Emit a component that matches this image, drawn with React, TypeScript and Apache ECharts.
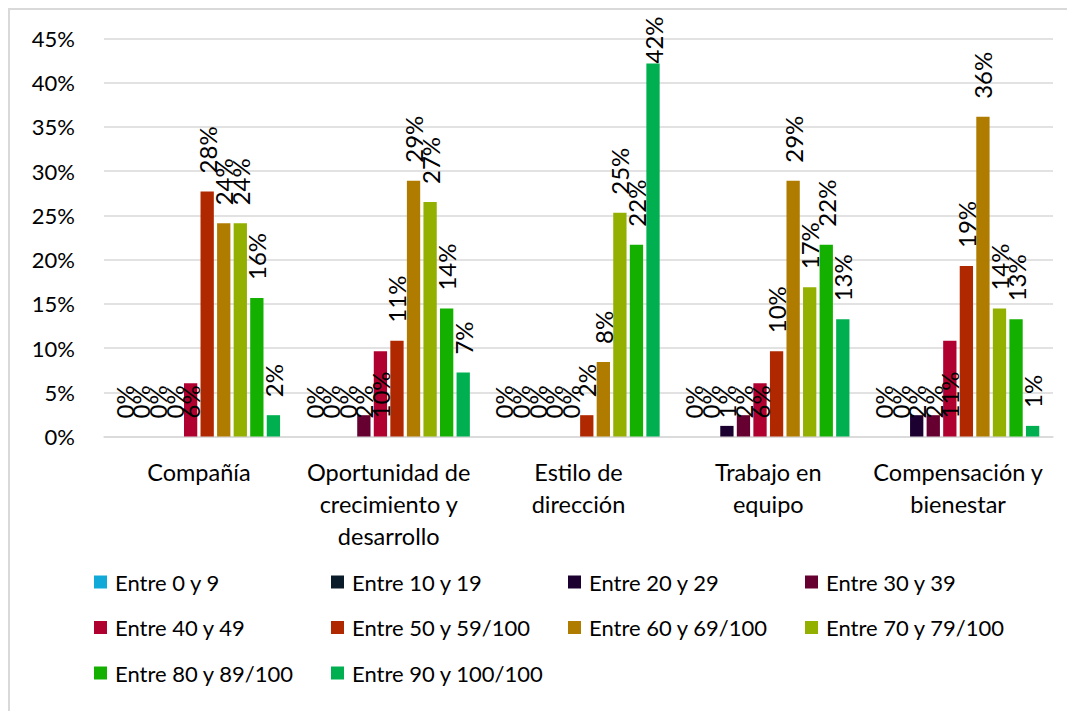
import React, { useEffect, useRef } from "react";
import * as echarts from "echarts";

// Categories (line breaks follow the axis label layout)
const categories = [
  "Compañía",
  "Oportunidad de\ncrecimiento y\ndesarrollo",
  "Estilo de\ndirección",
  "Trabajo en\nequipo",
  "Compensación y\nbienestar",
];

const seriesNames = [
  "Entre 0 y 9",
  "Entre 10 y 19",
  "Entre 20 y 29",
  "Entre 30 y 39",
  "Entre 40 y 49",
  "Entre 50 y 59/100",
  "Entre 60 y 69/100",
  "Entre 70 y 79/100",
  "Entre 80 y 89/100",
  "Entre 90 y 100/100",
];

const seriesColors = [
  "#11AAD8",
  "#0A1B2A",
  "#1C0030",
  "#650030",
  "#B00030",
  "#B02800",
  "#B07C00",
  "#93B000",
  "#14B000",
  "#00AF50",
];

// Percentage of answers per score range, one value per category
const range0to9 = [0, 0, 0, 0, 0];
const range10to19 = [0, 0, 0, 0, 0];
const range20to29 = [0, 0, 0, 1.2, 2.41];
const range30to39 = [0, 2.41, 0, 2.41, 2.41];
const range40to49 = [6.02, 9.64, 0, 6.02, 10.84];
const range50to59 = [27.71, 10.84, 2.41, 9.64, 19.28];
const range60to69 = [24.1, 28.92, 8.43, 28.92, 36.14];
const range70to79 = [24.1, 26.51, 25.3, 16.87, 14.46];
const range80to89 = [15.66, 14.46, 21.69, 21.69, 13.25];
const range90to100 = [2.41, 7.23, 42.17, 13.25, 1.2];

const seriesValues = [
  range0to9,
  range10to19,
  range20to29,
  range30to39,
  range40to49,
  range50to59,
  range60to69,
  range70to79,
  range80to89,
  range90to100,
];

const yTicks = [0, 5, 10, 15, 20, 25, 30, 35, 40, 45];

// Legend layout: four columns of items
const legendColumns = [
  ["Entre 0 y 9", "Entre 40 y 49", "Entre 80 y 89/100"],
  ["Entre 10 y 19", "Entre 50 y 59/100", "Entre 90 y 100/100"],
  ["Entre 20 y 29", "Entre 60 y 69/100"],
  ["Entre 30 y 39", "Entre 70 y 79/100"],
];

const FONT = "Lato, 'Noto Sans', sans-serif";
const CHART_W = 1065;
const CHART_H = 701;
const GRID = { left: 94, right: 22, top: 28.5, bottom: 274.5 };
const Y_MAX = yTicks[yTicks.length - 1];
const LABEL_SIZE = 24;
const LABEL_GAP = 18;

// Keep tall labels inside the chart: shrink the gap above the bar if needed
function labelDistance(v: number): number {
  const plotH = CHART_H - GRID.top - GRID.bottom;
  const space = GRID.top + ((Y_MAX - v) / Y_MAX) * plotH;
  const labelLen = LABEL_SIZE * 2;
  return Math.max(0, Math.min(LABEL_GAP, space - labelLen - 7));
}

export default function App() {
  const ref = useRef<HTMLDivElement>(null);

  useEffect(() => {
    if (!ref.current) return;
    const chart = echarts.init(ref.current, undefined, { renderer: "svg" });

    const series = seriesNames.map((name, i) => {
      const lowRange = i < 5;
      return {
        name,
        type: "bar",
        barWidth: 13.3,
        barGap: "24.5%",
        itemStyle: { color: seriesColors[i] },
        label: {
          show: true,
          position: lowRange ? "insideBottom" : "top",
          distance: LABEL_GAP,
          rotate: 90,
          align: "left",
          verticalAlign: "middle",
          color: "#000",
          fontFamily: FONT,
          fontSize: LABEL_SIZE,
          formatter: (p: any) => `${Math.round(p.value)}%`,
        },
        data: seriesValues[i].map((v) =>
          lowRange ? v : { value: v, label: { distance: labelDistance(v) } }
        ),
      };
    });

    const legendLefts = [84, 321, 558, 795];
    const legends = legendColumns.map((names, c) => ({
      orient: "vertical",
      left: legendLefts[c],
      top: 561,
      padding: 0,
      itemWidth: 13,
      itemHeight: 13,
      itemGap: 23.5,
      icon: "rect",
      data: names,
      selectedMode: false,
      textStyle: {
        fontFamily: FONT,
        fontSize: 22,
        lineHeight: 22,
        color: "#000",
        padding: [0, 0, 0, 3],
      },
    }));

    chart.setOption({
      animation: false,
      color: seriesColors,
      textStyle: { fontFamily: FONT },
      grid: { ...GRID, containLabel: false, outerBoundsMode: "none" },
      legend: legends,
      xAxis: {
        type: "category",
        data: categories,
        axisLine: { show: true, lineStyle: { color: "#d9d9d9", width: 1.5 } },
        axisTick: { show: false },
        axisLabel: {
          interval: 0,
          margin: 19,
          fontFamily: FONT,
          fontSize: 23.5,
          lineHeight: 32,
          color: "#000",
        },
      },
      yAxis: {
        type: "value",
        min: 0,
        max: Y_MAX,
        interval: 5,
        axisLine: { show: false },
        axisTick: { show: false },
        splitLine: { lineStyle: { color: "#d9d9d9", width: 1.5 } },
        axisLabel: {
          margin: 29,
          fontFamily: FONT,
          fontSize: 22,
          color: "#000",
          formatter: "{value}%",
        },
      },
      series,
    });

    return () => chart.dispose();
  }, []);

  return (
    <div
      style={{
        width: 1067,
        height: 703,
        boxSizing: "border-box",
        borderLeft: "2px solid #d9d9d9",
        borderTop: "2px solid #d9d9d9",
        background: "#fff",
      }}
    >
      <div ref={ref} style={{ width: CHART_W, height: CHART_H }} />
    </div>
  );
}
